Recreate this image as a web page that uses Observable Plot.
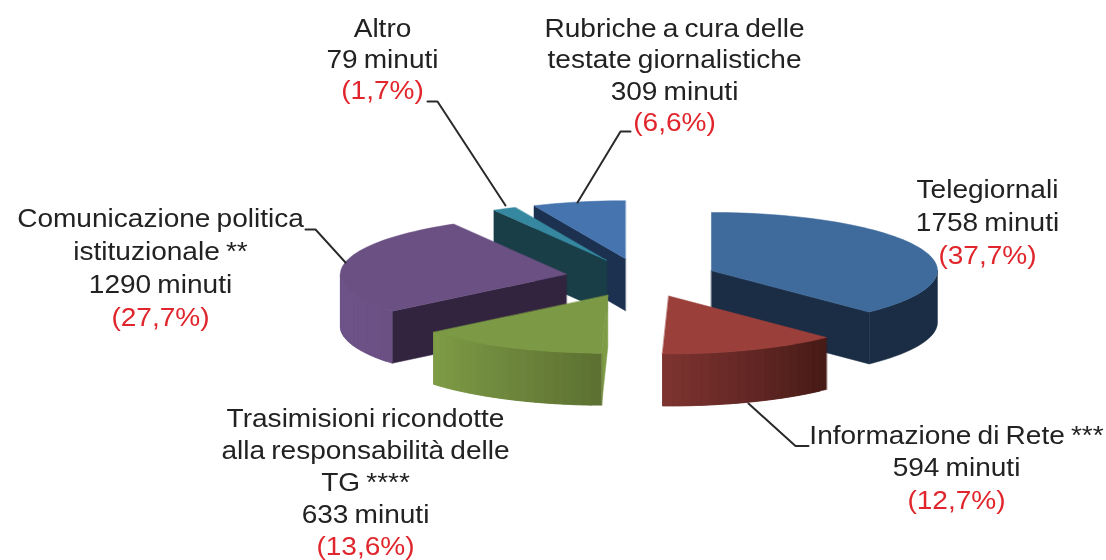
<!DOCTYPE html>
<html>
<head>
<meta charset="utf-8">
<script src="https://cdn.jsdelivr.net/npm/d3@7"></script>
<script src="https://cdn.jsdelivr.net/npm/@observablehq/plot@0.6"></script>
<style>
html,body{margin:0;padding:0;background:#fff}
#chart svg{display:block;filter:blur(0.6px)}
#chart svg text{word-spacing:-1.5px}
</style>
</head>
<body>
<div id="chart"></div>
<script>
// Data
const categories = ["Telegiornali","Informazione di Rete ***","Trasimisioni ricondotte alla responsabilità delle TG ****","Comunicazione politica istituzionale **","Altro","Rubriche a cura delle testate giornalistiche"];
const minutes = [1758,594,633,1290,79,309];
const percents = ["37,7","12,7","13,6","27,7","1,7","6,6"];

// Styles
const topColors = ["#3e6a9c","#9a3f3a","#7c9a45","#6a5083","#35889f","#4674ae"];
const edgeColors = ["#1a2d45","#451a16","#7e9c46","#32243f","#1a3e48","#1c3150"];
const rimColors = [["#1a2d45","#1a2d45"],["#451a16","#7e3431"],["#5c7031","#7f9d47"],["#6a5083","#6f558b"],["#1a3e48","#1a3e48"],["#1c3150","#1c3150"]];
const paintOrder = [5,4,3,2,0,1];

// Layout of the tilted pie and of the annotations
const pie = {cx:640.6, cy:277.3, rx:226, ry:58, depth:52, explode:0.336};
const font = "Liberation Sans, Arial, sans-serif";
const labelLines = [
  [["Telegiornali","1758 minuti"],987,189,33],
  [["Informazione di Rete ***","594 minuti"],956,435,32.5],
  [["Trasimisioni ricondotte","alla responsabilità delle","TG ****","633 minuti"],365,418,32],
  [["Comunicazione politica","istituzionale **","1290 minuti"],160,218,33],
  [["Altro","79 minuti"],382,28,31],
  [["Rubriche a cura delle","testate giornalistiche","309 minuti"],674,28,31.5]
];
const leaders = [
  [[748,403],[795,445.5],[808,445.5]],
  [[577,202],[620,131],[630,131]],
  [[505,205],[437,101],[427,101]],
  [[345,262],[315,229],[305,229]]
];

const total = d3.sum(minutes);
const rad = d => d*Math.PI/180;
let acc = 0;
const slices = minutes.map((m,i) => {
  const a0 = acc/total*360; acc += m; const a1 = acc/total*360;
  const mid = rad((a0+a1)/2);
  return {i,a0,a1,
    ax: pie.cx + pie.explode*pie.rx*Math.sin(mid),
    ay: pie.cy - pie.explode*pie.ry*Math.cos(mid)};
});
const rimPt = (s,a,dz=0) => ({x:s.ax+pie.rx*Math.sin(rad(a)), y:s.ay-pie.ry*Math.cos(rad(a))+dz});
const arc = (s,a0,a1,dz=0) => {
  const n = Math.max(2,Math.ceil(Math.abs(a1-a0)/2)), pts=[];
  for(let k=0;k<=n;k++) pts.push(rimPt(s,a0+(a1-a0)*k/n,dz));
  return pts;
};
const polygons = [];
for (const i of paintOrder) {
  const s = slices[i];
  const apex = {x:s.ax,y:s.ay}, low = {x:s.ax,y:s.ay+pie.depth};
  // radial side walls facing the viewer
  const walls = [];
  if (-Math.cos(rad(s.a0-90)) > 0.001) walls.push(s.a0);
  if (-Math.cos(rad(s.a1+90)) > 0.001) walls.push(s.a1);
  for (const a of walls)
    polygons.push({pts:[apex,rimPt(s,a),rimPt(s,a,pie.depth),low],fill:edgeColors[i]});
  // outer rim, in overlapping shaded strips (one piece when the colour is flat)
  const r0 = Math.max(s.a0,90), r1 = Math.min(s.a1,270);
  if (r1>r0) {
    const flatRim = rimColors[i][0]===rimColors[i][1];
    const n = flatRim ? 1 : Math.ceil((r1-r0)/2.5), step=(r1-r0)/n;
    const shade = d3.interpolateRgb(rimColors[i][0],rimColors[i][1]);
    for(let k=0;k<n;k++){
      const u=r0+step*k, v=Math.min(r1,u+step*2);
      polygons.push({pts:[...arc(s,u,v),...arc(s,v,u,pie.depth)],fill:shade((k+.5)/n)});
    }
  }
  // top face
  polygons.push({pts:[apex,...arc(s,s.a0,s.a1)],fill:topColors[i]});
}
const flat = polygons.flatMap((p,id)=>p.pts.map(q=>({x:q.x,y:q.y,id,fill:p.fill})));

const texts = [];
labelLines.forEach(([lines,x,y,step],i)=>{
  lines.forEach((t,k)=>texts.push({t,x,y:y+k*step,c:"#222222"}));
  texts.push({t:`(${percents[i]}%)`,x,y:y+lines.length*step,c:"#e0262c"});
});
const leaderRows = leaders.flatMap((l,id)=>l.map(([x,y])=>({x,y,id})));

const chart = Plot.plot({
  width:1106,height:560,margin:0,
  x:{domain:[0,1106],range:[0,1106],axis:null},
  y:{domain:[0,560],range:[0,560],axis:null},
  marks:[
    Plot.line(flat,{x:"x",y:"y",z:"id",fill:"fill",stroke:"fill",strokeWidth:0.5,curve:"linear-closed"}),
    Plot.line(leaderRows,{x:"x",y:"y",z:"id",stroke:"#2a2a2a",strokeWidth:2}),
    Plot.text(texts,{x:"x",y:"y",text:"t",fill:"c",fontSize:25.5,fontFamily:font,textAnchor:"middle",lineAnchor:"middle"})
  ]
});
// The reference's lettering is slightly wider than the installed Helvetica look-alike
d3.select(chart).selectAll("text").each(function(){
  const t = this.getAttribute("transform") || "";
  this.setAttribute("transform", t + " scale(1.1,1)");
});
document.getElementById("chart").appendChild(chart);
</script>
</body>
</html>
